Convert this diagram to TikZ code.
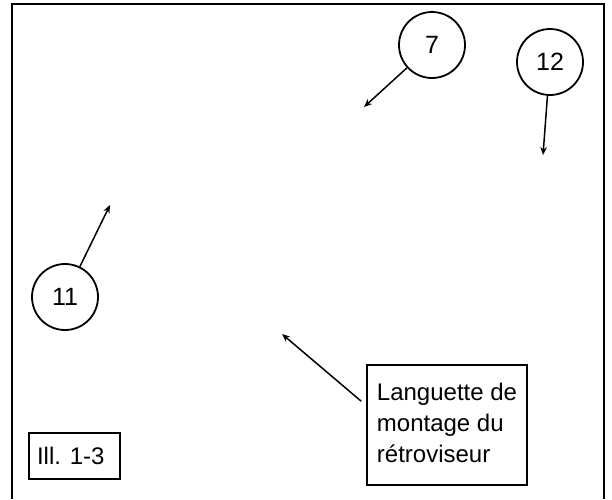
\documentclass[tikz,border=0pt]{standalone}
\usepackage{fontspec}
\setmainfont{Liberation Sans}
\usetikzlibrary{arrows.meta}
\begin{document}
\begin{tikzpicture}[x=1pt,y=-1pt,
  callout/.style={draw,circle,line width=1.8pt,minimum size=66pt,inner sep=0pt,font=\fontsize{25}{28}\selectfont},
  labelbox/.style={draw,rectangle,line width=1.6pt,inner sep=0pt,font=\fontsize{24}{31}\selectfont},
  pointer/.style={line width=1.5pt,-{Stealth[length=8pt,width=6.5pt]}}]
\useasboundingbox (0,0) rectangle (612,499);
\draw[line width=2.4pt] (12,499) -- (12,4) -- (604,4) -- (604,499);
\node[callout] (c7) at (432,45) {7};
\node[callout] (c12) at (550,62) {12};
\node[callout] (c11) at (65,297) {11};
\coordinate (t7) at (364,107);
\coordinate (t12) at (543,155);
\coordinate (t11) at (110,205);
\coordinate (tl) at (282,334);
\node[labelbox,minimum width=160pt,minimum height=120pt] (lbox) at (447,425)
  {\raisebox{6pt}{\begin{tabular}{@{}l@{}}Languette de\\montage du\\rétroviseur\end{tabular}}};
\node[labelbox,minimum width=91pt,minimum height=46pt] (ill) at (74.5,456) {\makebox[75pt][l]{Ill. 1-3}};
\draw[pointer] (c7) -- (t7);
\draw[pointer] (c12) -- (t12);
\draw[pointer] (c11) -- (t11);
\draw[pointer] ([shift={(-5,37)}]lbox.north west) -- (tl);
\end{tikzpicture}
\end{document}
